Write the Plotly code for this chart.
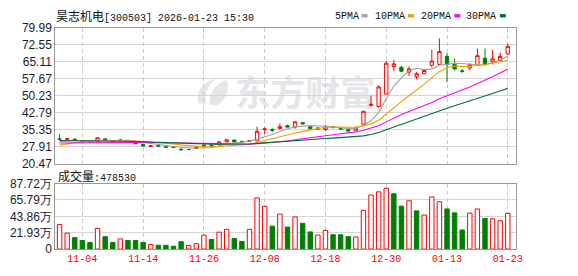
import plotly.graph_objects as go

W, H = 578, 276

dates = ["2025-10-30", "2025-10-31", "2025-11-03", "2025-11-04", "2025-11-05", "2025-11-06",
         "2025-11-07", "2025-11-10", "2025-11-11", "2025-11-12", "2025-11-13", "2025-11-14",
         "2025-11-17", "2025-11-18", "2025-11-19", "2025-11-20", "2025-11-21", "2025-11-24",
         "2025-11-25", "2025-11-26", "2025-11-27", "2025-11-28", "2025-12-01", "2025-12-02",
         "2025-12-03", "2025-12-04", "2025-12-05", "2025-12-08", "2025-12-09", "2025-12-10",
         "2025-12-11", "2025-12-12", "2025-12-15", "2025-12-16", "2025-12-17", "2025-12-18",
         "2025-12-19", "2025-12-22", "2025-12-23", "2025-12-24", "2025-12-25", "2025-12-26",
         "2025-12-29", "2025-12-30", "2025-12-31", "2026-01-05", "2026-01-06", "2026-01-07",
         "2026-01-08", "2026-01-09", "2026-01-12", "2026-01-13", "2026-01-14", "2026-01-15",
         "2026-01-16", "2026-01-19", "2026-01-20", "2026-01-21", "2026-01-22", "2026-01-23"]

open_ = [31.25, 31.1, 31.2, 30.5, 30.3, 30.0, 31.35, 30.6, 30.5, 30.6,
         29.8, 28.9, 28.0, 28.35, 27.8, 27.8, 26.75, 26.6, 27.2, 28.0,
         28.5, 28.7, 30.0, 30.8, 30.25, 30.3, 30.5, 35.35, 35.35, 35.8,
         37.1, 36.5, 38.4, 36.7, 35.6, 35.4, 36.5, 35.9, 35.3, 34.8,
         37.8, 46.0, 45.5, 51.0, 63.0, 62.65, 60.6, 58.5, 59.9, 63.6,
         64.0, 67.5, 64.0, 61.1, 62.4, 63.6, 66.7, 65.15, 65.7, 68.6]
close = [31.15, 31.45, 30.8, 30.1, 30.0, 31.8, 30.7, 30.3, 30.8, 30.1,
         29.15, 28.2, 28.3, 28.2, 27.7, 27.6, 26.6, 26.7, 27.6, 28.5,
         28.3, 29.98, 30.9, 30.0, 29.98, 30.6, 34.65, 35.7, 35.1, 36.7,
         36.5, 38.8, 37.9, 35.8, 36.0, 36.5, 36.4, 35.6, 34.8, 36.0,
         43.4, 46.5, 54.1, 64.5, 64.2, 61.0, 62.0, 59.9, 61.3, 65.4,
         69.6, 64.0, 62.0, 61.0, 63.8, 67.8, 64.3, 66.4, 67.5, 71.9]
high = [33.4, 31.75, 31.35, 30.6, 30.4, 31.85, 31.45, 30.7, 31.2, 30.7,
        29.9, 29.0, 28.6, 28.45, 27.9, 27.9, 27.2, 26.8, 27.7, 29.1,
        28.9, 30.5, 31.35, 31.0, 30.4, 30.9, 36.7, 36.4, 36.0, 38.1,
        37.6, 39.2, 38.8, 37.0, 36.5, 37.4, 37.0, 36.1, 35.5, 36.7,
        43.6, 50.3, 54.8, 65.5, 66.0, 63.35, 63.07, 60.6, 61.96, 70.3,
        75.4, 68.9, 66.5, 61.96, 64.5, 70.97, 70.97, 70.3, 69.2, 73.1]
low = [31.05, 31.0, 30.7, 30.0, 29.9, 29.9, 30.6, 30.2, 30.3, 30.0,
       29.1, 28.1, 27.9, 28.1, 27.6, 27.5, 26.1, 26.5, 27.1, 27.9,
       27.8, 28.6, 29.9, 29.9, 29.9, 30.2, 30.3, 33.4, 34.2, 35.6,
       36.3, 35.8, 37.6, 35.7, 35.4, 34.8, 35.9, 35.4, 34.6, 34.6,
       37.5, 45.5, 45.0, 50.8, 61.0, 60.6, 58.9, 57.4, 59.7, 62.65,
       63.6, 56.1, 61.3, 60.3, 61.3, 63.35, 63.35, 64.0, 65.0, 68.2]

ma5 = [30.1, 30.35, 30.5, 30.5, 30.6, 30.83, 30.68, 30.58, 30.72, 30.74,
       30.21, 29.71, 29.31, 28.79, 28.31, 28.0, 27.68, 27.36, 27.24, 27.44,
       27.54, 28.22, 29.06, 29.54, 29.83, 30.29, 31.23, 32.19, 33.21, 34.55,
       35.73, 36.56, 37.0, 37.14, 37.0, 37.0, 36.52, 36.06, 35.86, 35.9,
       37.26, 39.26, 42.96, 48.9, 54.5, 58.1, 61.2, 62.3, 61.7, 61.92,
       63.64, 64.04, 64.46, 64.4, 64.08, 63.72, 63.78, 64.66, 65.96, 67.58]
ma10 = [28.6, 29.2, 29.7, 30.0, 30.3, 30.4, 30.45, 30.45, 30.5, 30.6,
        30.52, 30.2, 29.95, 29.76, 29.53, 29.11, 28.7, 28.34, 28.02, 27.86,
        27.79, 27.97, 28.23, 28.41, 28.64, 28.94, 29.74, 30.64, 31.39, 32.21,
        33.03, 33.91, 34.61, 35.19, 35.8, 36.39, 36.56, 36.55, 36.52, 36.45,
        37.14, 37.91, 39.53, 42.38, 45.21, 47.66, 50.22, 52.65, 55.3, 58.2,
        60.8, 62.5, 63.3, 63.0, 63.0, 63.68, 63.91, 64.56, 65.18, 65.83]
ma20 = [29.5, 29.55, 29.6, 29.6, 29.6, 29.65, 29.7, 29.75, 29.8, 29.85,
        29.85, 29.8, 29.75, 29.7, 29.65, 29.55, 29.45, 29.4, 29.35, 29.3,
        29.16, 29.08, 29.09, 29.08, 29.08, 29.02, 29.22, 29.49, 29.7, 30.03,
        30.4, 30.93, 31.41, 31.8, 32.21, 32.65, 33.14, 33.58, 33.94, 34.32,
        35.07, 35.9, 37.06, 38.78, 40.48, 41.99, 43.36, 44.57, 45.88, 47.32,
        48.97, 50.23, 51.44, 52.69, 54.08, 55.65, 57.04, 58.58, 60.22, 62.0]
ma30 = [30.6, 30.6, 30.6, 30.55, 30.5, 30.5, 30.45, 30.4, 30.35, 30.3,
        30.2, 30.05, 29.9, 29.8, 29.65, 29.5, 29.35, 29.25, 29.15, 29.05,
        29.0, 28.95, 28.95, 28.95, 29.0, 29.1, 29.35, 29.6, 29.9, 30.26,
        30.44, 30.69, 30.92, 31.12, 31.32, 31.47, 31.66, 31.84, 31.97, 32.17,
        32.64, 33.25, 34.11, 35.32, 36.53, 37.64, 38.82, 39.93, 41.05, 42.28,
        43.66, 44.79, 45.83, 46.86, 47.99, 49.23, 50.2, 51.22, 52.3, 53.47]

volume = [32.8, 21.3, 15.3, 11.5, 8.9, 27.7, 16.6, 8.9, 13.6, 11.5,
          11.5, 8.9, 6.0, 5.1, 5.1, 3.8, 9.8, 4.7, 7.2, 18.7,
          12.8, 22.6, 26.4, 14.1, 10.2, 26.4, 68.6, 57.1, 30.7, 46.8,
          29.4, 43.0, 34.5, 23.0, 18.7, 25.1, 19.2, 19.2, 16.6, 16.2,
          51.9, 72.4, 76.6, 81.3, 74.1, 57.5, 64.7, 51.1, 45.6, 69.8,
          63.4, 53.7, 48.5, 25.5, 48.1, 53.7, 40.9, 40.5, 37.9, 47.853]
vol_up = [1, 1, 0, 0, 0, 1, 0, 0, 1, 0,
          0, 0, 1, 0, 0, 0, 0, 1, 1, 1,
          0, 1, 1, 0, 0, 1, 1, 1, 0, 1,
          0, 1, 0, 0, 1, 1, 0, 0, 0, 1,
          1, 1, 1, 1, 0, 0, 1, 0, 1, 1,
          1, 0, 0, 0, 1, 1, 0, 1, 1, 1]

tick_dates = ["2025-11-04", "2025-11-14", "2025-11-26", "2025-12-08",
              "2025-12-18", "2025-12-30", "2026-01-13", "2026-01-23"]
tick_labels = ["11-04", "11-14", "11-26", "12-08", "12-18", "12-30", "01-13", "01-23"]
price_ticks = [20.47, 27.91, 35.35, 42.79, 50.23, 57.67, 65.11, 72.55, 79.99]
vol_ticks = [0, 21.93, 43.86, 65.79, 87.72]
vol_tick_labels = ["0", "21.93万", "43.86万", "65.79万", "87.72万"]
ma_names = ["5PMA", "10PMA", "20PMA", "30PMA"]
ma_colors = ["#a0a0a0", "#f0a000", "#ff00ff", "#006f32"]

RED = "#ff0000"
GREEN = "#008000"
FRAME = "#999999"
GRID = "#d6d6d6"


def px(x):
    return x / W


def py(y):
    return 1 - y / H


fig = go.Figure()

fig.add_trace(go.Candlestick(
    x=dates, open=open_, high=high, low=low, close=close,
    increasing=dict(line=dict(color=RED, width=1), fillcolor="#ffffff"),
    decreasing=dict(line=dict(color=GREEN, width=1), fillcolor=GREEN),
    whiskerwidth=0, showlegend=False, hoverinfo="skip",
    xaxis="x", yaxis="y"))

for vals, col in zip([ma5, ma10, ma20, ma30], ma_colors):
    fig.add_trace(go.Scatter(x=dates, y=vals, mode="lines",
                             line=dict(color=col, width=1.1),
                             showlegend=False, hoverinfo="skip",
                             xaxis="x", yaxis="y"))

fig.add_trace(go.Bar(
    x=dates, y=volume,
    marker=dict(color=["#ffffff" if u else GREEN for u in vol_up],
                line=dict(color=[RED if u else GREEN for u in vol_up], width=1)),
    showlegend=False, hoverinfo="skip", xaxis="x2", yaxis="y2"))

xdom = [px(56), px(522)]
xr = [-0.56, 60.04]

common_x = dict(type="category", domain=xdom, range=xr, showgrid=True,
                gridcolor="#cccccc", griddash="4px,3px", gridwidth=1,
                tickmode="array", tickvals=tick_dates, ticks="",
                showline=True, mirror=True, linecolor=FRAME, linewidth=1,
                zeroline=False, fixedrange=True)

fig.update_layout(
    width=W, height=H,
    margin=dict(l=0, r=0, t=0, b=0),
    paper_bgcolor="#ffffff", plot_bgcolor="#ffffff",
    hovermode=False, bargap=0.42, boxgap=0.38,
    xaxis=dict(**common_x, anchor="y", showticklabels=False,
               rangeslider=dict(visible=False)),
    xaxis2=dict(**common_x, anchor="y2", matches="x", showticklabels=True,
                ticktext=tick_labels,
                tickfont=dict(family="Liberation Mono", size=10, color=RED)),
    yaxis=dict(domain=[py(165), py(22)], range=[20.47, 79.99],
               tickmode="array", tickvals=price_ticks,
               ticktext=[f"{v:.2f}" for v in price_ticks],
               tickfont=dict(family="Liberation Sans", size=12, color="#1b1b2f"),
               showgrid=True, gridcolor=GRID, gridwidth=1, ticks="",
               showline=True, mirror=True, linecolor=FRAME, linewidth=1,
               zeroline=False, fixedrange=True, anchor="x"),
    yaxis2=dict(domain=[py(255), py(186)], range=[0, 87.72],
                tickmode="array", tickvals=vol_ticks, ticktext=vol_tick_labels,
                tickfont=dict(family="Liberation Sans", size=12, color="#1b1b2f"),
                showgrid=True, gridcolor=GRID, gridwidth=1, ticks="",
                showline=True, mirror=True, linecolor=FRAME, linewidth=1,
                zeroline=False, fixedrange=True, anchor="x2"),
)

CJK = "Noto Sans CJK SC"
ann = []
ann.append(dict(
    x=px(55), y=py(9), xref="paper", yref="paper", xanchor="left", yanchor="middle",
    showarrow=False,
    text=f'<span style="font-family:{CJK};font-size:12px">昊志机电</span>[300503] 2026-01-23 15:30',
    font=dict(family="Liberation Mono", size=10, color="#111111")))
ann.append(dict(
    x=px(57), y=py(177), xref="paper", yref="paper", xanchor="left", yanchor="middle",
    showarrow=False,
    text=f'<span style="font-family:{CJK};font-size:12px">成交量</span>:478530',
    font=dict(family="Liberation Mono", size=10, color="#111111")))

legend_text_x = [337, 378, 424, 470]
legend_box_x = [366, 413, 460, 506]
shapes = []
for name, col, tx, bx in zip(ma_names, ma_colors, legend_text_x, legend_box_x):
    ann.append(dict(x=px(tx), y=py(9.5), xref="paper", yref="paper",
                    xanchor="left", yanchor="middle", showarrow=False, text=name,
                    font=dict(family="Liberation Mono", size=10, color="#111111")))
    shapes.append(dict(type="rect", xref="paper", yref="paper",
                       x0=px(bx), x1=px(bx + 6), y0=py(11), y1=py(7.5),
                       fillcolor=col, line=dict(width=0)))


def P(x, y):
    return f"{px(x):.5f},{py(y):.5f}"


WM = "#e6e6ea"
shapes.append(dict(type="path", xref="paper", yref="paper", layer="below",
                   path=f"M {P(201,101)} Q {P(196,83)} {P(219,75)} Q {P(205,87)} {P(209,103)} Z",
                   fillcolor=WM, line=dict(width=0)))
shapes.append(dict(type="path", xref="paper", yref="paper", layer="below",
                   path=f"M {P(212,103)} Q {P(211,85)} {P(229,77)} Q {P(235,92)} {P(220,104)} Z",
                   fillcolor=WM, line=dict(width=0)))
shapes.append(dict(type="rect", xref="paper", yref="paper", layer="below",
                   x0=px(234), x1=px(384), y0=py(113), y1=py(75),
                   fillcolor="rgba(0,0,0,0)", line=dict(width=0),
                   label=dict(text="东方财富", textposition="middle center",
                              font=dict(family=CJK, size=35, color=WM, weight=700))))

fig.update_layout(annotations=ann, shapes=shapes)

fig.write_html("out.html", config={"displayModeBar": False})
